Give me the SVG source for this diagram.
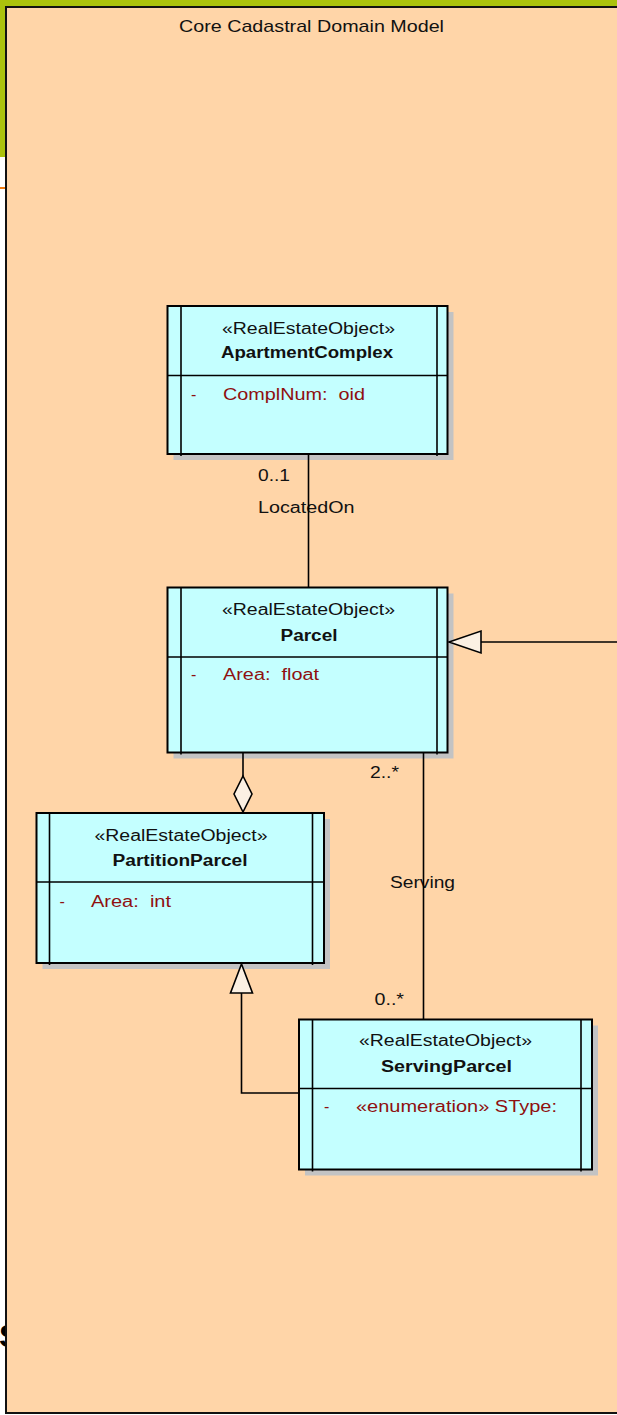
<svg xmlns="http://www.w3.org/2000/svg" width="617" height="1415" viewBox="0 0 617 1415">
<defs>
<style>
text { font-family: "Liberation Sans", Arial, sans-serif; font-size: 16px; fill: #111; }
.title { font-size: 17px; }
.bold { font-weight: bold; }
.attr { fill: #8f1010; }
.box { fill: #c4ffff; stroke: #000; stroke-width: 2; }
.shadow { fill: #c3c3c3; }
.rule { stroke: #000; stroke-width: 1.6; fill: none; }
.edge { stroke: #000; stroke-width: 1.6; fill: none; }
.head { fill: #fbf0e3; stroke: #000; stroke-width: 1.6; stroke-linejoin: miter; }
</style>
</defs>

<!-- page background and package frame -->
<g id="frame">
  <rect x="0" y="0" width="617" height="1415" fill="#ffffff"/>
  <rect x="0" y="0" width="617" height="8" fill="#abc20c"/>
  <rect x="0" y="0" width="7" height="157" fill="#abc20c"/>
  <rect x="0" y="187" width="7" height="2" fill="#f07a10"/>
  <text x="-1" y="1347" font-size="32" font-weight="bold" style="font-size:32px;fill:#000">S</text>
  <rect x="6" y="7" width="640" height="1406" fill="#ffd5a8" stroke="#111" stroke-width="2"/>
  <text class="title" x="179" y="32" textLength="265" lengthAdjust="spacingAndGlyphs">Core Cadastral Domain Model</text>
</g>

<!-- class: ApartmentComplex -->
<g id="apartment-complex">
  <rect class="shadow" x="173.5" y="312" width="280" height="148"/>
  <rect class="box" x="167.5" y="306" width="280" height="148"/>
  <line class="rule" x1="181" y1="306" x2="181" y2="456"/>
  <line class="rule" x1="437" y1="306" x2="437" y2="456"/>
  <line class="rule" x1="167.5" y1="375.5" x2="447.5" y2="375.5"/>
  <text x="222" y="334" textLength="173" lengthAdjust="spacingAndGlyphs">«RealEstateObject»</text>
  <text class="bold" x="221" y="358" textLength="172" lengthAdjust="spacingAndGlyphs">ApartmentComplex</text>
  <text class="attr" x="191" y="400">-</text>
  <text class="attr" x="223" y="400" textLength="142" lengthAdjust="spacingAndGlyphs" xml:space="preserve">ComplNum:  oid</text>
</g>

<!-- class: Parcel -->
<g id="parcel">
  <rect class="shadow" x="173.5" y="593.5" width="280" height="165"/>
  <rect class="box" x="167.5" y="587.5" width="280" height="165"/>
  <line class="rule" x1="181" y1="587.5" x2="181" y2="754.5"/>
  <line class="rule" x1="437" y1="587.5" x2="437" y2="754.5"/>
  <line class="rule" x1="167.5" y1="657" x2="447.5" y2="657"/>
  <text x="222" y="615" textLength="173" lengthAdjust="spacingAndGlyphs">«RealEstateObject»</text>
  <text class="bold" x="280.5" y="641" textLength="57" lengthAdjust="spacingAndGlyphs">Parcel</text>
  <text class="attr" x="191" y="680">-</text>
  <text class="attr" x="223" y="680" textLength="96" lengthAdjust="spacingAndGlyphs" xml:space="preserve">Area:  float</text>
</g>

<!-- class: PartitionParcel -->
<g id="partition-parcel">
  <rect class="shadow" x="42.5" y="819" width="287.5" height="150"/>
  <rect class="box" x="36.5" y="813" width="287.5" height="150"/>
  <line class="rule" x1="49.5" y1="813" x2="49.5" y2="965"/>
  <line class="rule" x1="312.5" y1="813" x2="312.5" y2="965"/>
  <line class="rule" x1="36.5" y1="882" x2="324" y2="882"/>
  <text x="94.5" y="841" textLength="173" lengthAdjust="spacingAndGlyphs">«RealEstateObject»</text>
  <text class="bold" x="112.5" y="866" textLength="135" lengthAdjust="spacingAndGlyphs">PartitionParcel</text>
  <text class="attr" x="59.5" y="907">-</text>
  <text class="attr" x="91" y="907" textLength="80" lengthAdjust="spacingAndGlyphs" xml:space="preserve">Area:  int</text>
</g>

<!-- class: ServingParcel -->
<g id="serving-parcel">
  <rect class="shadow" x="305" y="1025.5" width="293" height="150"/>
  <rect class="box" x="299" y="1019.5" width="293" height="150"/>
  <line class="rule" x1="312.5" y1="1019.5" x2="312.5" y2="1171.5"/>
  <line class="rule" x1="581" y1="1019.5" x2="581" y2="1171.5"/>
  <line class="rule" x1="299" y1="1088.5" x2="592" y2="1088.5"/>
  <text x="359" y="1046" textLength="173" lengthAdjust="spacingAndGlyphs">«RealEstateObject»</text>
  <text class="bold" x="381" y="1072" textLength="131" lengthAdjust="spacingAndGlyphs">ServingParcel</text>
  <text class="attr" x="324" y="1112">-</text>
  <text class="attr" x="356" y="1112" textLength="201" lengthAdjust="spacingAndGlyphs">«enumeration» SType:</text>
</g>

<!-- associations, aggregation and generalizations -->
<g id="connectors">
  <text x="258" y="481" textLength="32" lengthAdjust="spacingAndGlyphs">0..1</text>
  <text x="258" y="513" textLength="96.5" lengthAdjust="spacingAndGlyphs">LocatedOn</text>
  <text x="370" y="778" textLength="29" lengthAdjust="spacingAndGlyphs">2..*</text>
  <text x="390" y="888" textLength="65" lengthAdjust="spacingAndGlyphs">Serving</text>
  <text x="374.5" y="1005" textLength="29.5" lengthAdjust="spacingAndGlyphs">0..*</text>

  <!-- LocatedOn -->
  <line class="edge" x1="308.5" y1="455" x2="308.5" y2="587"/>
  <!-- Serving -->
  <line class="edge" x1="423.5" y1="753" x2="423.5" y2="1019"/>
  <!-- aggregation Parcel <>- PartitionParcel -->
  <line class="edge" x1="243" y1="753" x2="243" y2="776"/>
  <polygon class="head" points="243,776 252,794 243,812 234,794"/>
  <!-- generalization ServingParcel -> PartitionParcel -->
  <polyline class="edge" points="299,1093 241.5,1093 241.5,993"/>
  <polygon class="head" points="241.5,964 252.5,993 230.5,993"/>
  <!-- generalization into Parcel from the right -->
  <line class="edge" x1="617" y1="642" x2="481" y2="642"/>
  <polygon class="head" points="449,642 481,631 481,653"/>
</g>
</svg>
